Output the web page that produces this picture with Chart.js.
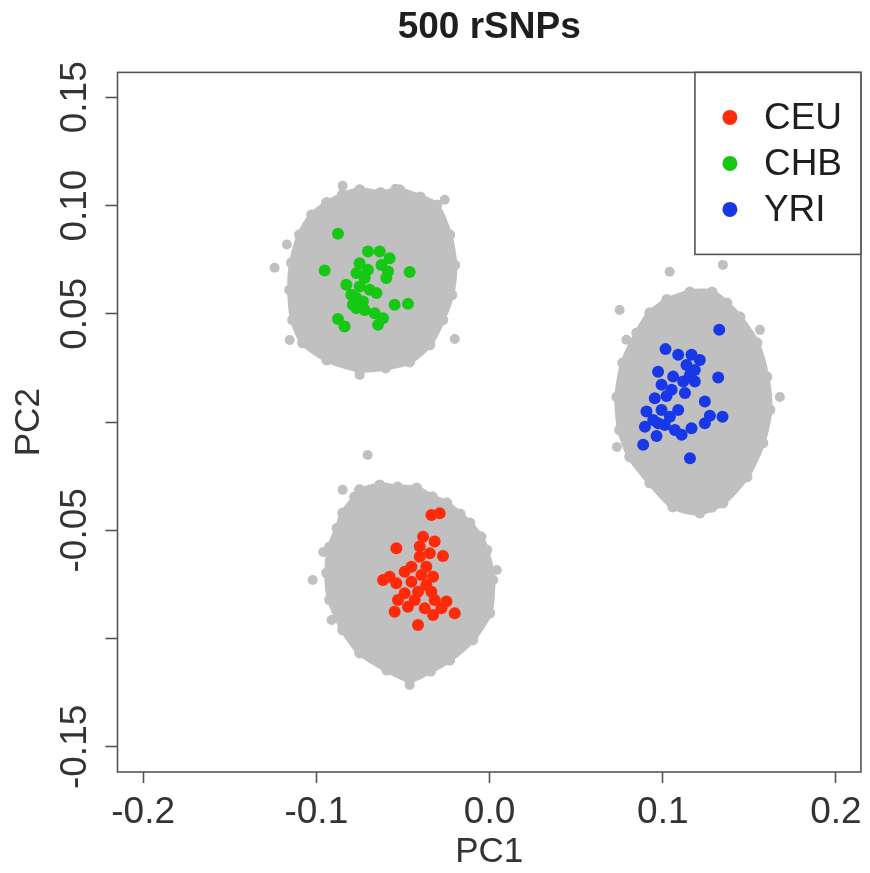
<!DOCTYPE html>
<html>
<head>
<meta charset="utf-8">
<script src="https://cdn.jsdelivr.net/npm/chart.js@4/dist/chart.umd.min.js"></script>
<style>
  html, body { margin: 0; padding: 0; background: #fff; }
  #wrap { width: 870px; height: 873px; position: relative; }
</style>
</head>
<body>
<div id="wrap"><canvas id="pca"></canvas></div>
<script>
////////////////////////////////////////////////////////////////////////////////
// data (PC1, PC2)
////////////////////////////////////////////////////////////////////////////////
const GROUPS = ["CEU", "CHB", "YRI"];
const COLORS = ["#ff2a0a", "#14c814", "#1838e8"];
const GRAY = "#c0c0c0";

const X_TICKS = [-0.2, -0.1, 0.0, 0.1, 0.2];
const X_TICK_LABELS = ["-0.2", "-0.1", "0.0", "0.1", "0.2"];
const Y_TICKS = [-0.15, -0.10, -0.05, 0.0, 0.05, 0.10, 0.15];
const Y_TICK_LABELS = ["-0.15", "", "-0.05", "", "0.05", "0.10", "0.15"];

const CEU_POINTS = [
  [-0.0336, -0.0429], [-0.0288, -0.0421], [-0.0384, -0.0529], [-0.0538, -0.0583],
  [-0.0317, -0.0552], [-0.0403, -0.0575], [-0.0345, -0.0606], [-0.0269, -0.0618],
  [-0.0403, -0.0622], [-0.0615, -0.0729], [-0.0490, -0.0691], [-0.0393, -0.0706],
  [-0.0326, -0.0714], [-0.0538, -0.0744], [-0.0451, -0.0737], [-0.0365, -0.0752],
  [-0.0490, -0.0791], [-0.0413, -0.0783], [-0.0336, -0.0783], [-0.0529, -0.0822],
  [-0.0432, -0.0822], [-0.0317, -0.0822], [-0.0249, -0.0829], [-0.0548, -0.0876],
  [-0.0471, -0.0853], [-0.0374, -0.0860], [-0.0201, -0.0883], [-0.0326, -0.0891],
  [-0.0413, -0.0937], [-0.0278, -0.0860], [-0.0577, -0.0714], [-0.0451, -0.0668],
  [-0.0365, -0.0668]
];
const CHB_POINTS = [
  [-0.0875, 0.0870], [-0.0952, 0.0700], [-0.0461, 0.0693], [-0.0702, 0.0788],
  [-0.0634, 0.0788], [-0.0577, 0.0757], [-0.0750, 0.0734], [-0.0624, 0.0726],
  [-0.0586, 0.0695], [-0.0769, 0.0688], [-0.0596, 0.0665], [-0.0721, 0.0665],
  [-0.0827, 0.0634], [-0.0750, 0.0626], [-0.0692, 0.0611], [-0.0653, 0.0596],
  [-0.0769, 0.0573], [-0.0731, 0.0557], [-0.0789, 0.0542], [-0.0548, 0.0542],
  [-0.0471, 0.0546], [-0.0721, 0.0518], [-0.0663, 0.0503], [-0.0615, 0.0480],
  [-0.0875, 0.0476], [-0.0837, 0.0441], [-0.0644, 0.0449], [-0.0769, 0.0526],
  [-0.0702, 0.0703], [-0.0798, 0.0588]
];
const YRI_POINTS = [
  [0.1326, 0.0426], [0.1016, 0.0337], [0.1089, 0.0311], [0.1166, 0.0311],
  [0.1214, 0.0287], [0.1137, 0.0264], [0.1185, 0.0241], [0.0973, 0.0233],
  [0.1320, 0.0206], [0.1060, 0.0210], [0.1118, 0.0187], [0.1185, 0.0187],
  [0.0993, 0.0172], [0.1051, 0.0149], [0.1128, 0.0134], [0.0954, 0.0110],
  [0.1022, 0.0121], [0.1243, 0.0095], [0.0906, 0.0049], [0.0993, 0.0056],
  [0.1089, 0.0056], [0.1041, 0.0025], [0.1272, 0.0029], [0.1345, 0.0025],
  [0.0945, 0.0010], [0.1243, -0.0005], [0.0897, -0.0021], [0.1012, -0.0013],
  [0.1070, -0.0036], [0.1166, -0.0028], [0.1109, -0.0059], [0.0964, -0.0064],
  [0.0887, -0.0105], [0.1157, -0.0167], [0.0973, -0.0005], [0.1157, 0.0218]
];

// outlines of the dense grey clouds of simulated samples
const CEU_CLOUD = [
  [-0.0750, -0.0313], [-0.0634, -0.0290], [-0.0530, -0.0300], [-0.0421, -0.0304],
  [-0.0330, -0.0345], [-0.0247, -0.0373], [-0.0170, -0.0425], [-0.0114, -0.0466],
  [-0.0050, -0.0530], [-0.0016, -0.0591], [0.0018, -0.0729], [0.0001, -0.0882],
  [-0.0097, -0.1006], [-0.0230, -0.1099], [-0.0340, -0.1150], [-0.0461, -0.1192],
  [-0.0594, -0.1145], [-0.0750, -0.1066], [-0.0848, -0.0960], [-0.0923, -0.0821],
  [-0.0940, -0.0697], [-0.0923, -0.0577], [-0.0880, -0.0490], [-0.0848, -0.0420],
  [-0.0779, -0.0346], [-0.0750, -0.0313]
];
const CHB_CLOUD = [
  [-0.0940, 0.1013], [-0.0850, 0.1050], [-0.0750, 0.1073], [-0.0630, 0.1060],
  [-0.0519, 0.1073], [-0.0400, 0.1040], [-0.0305, 0.1003], [-0.0230, 0.0865],
  [-0.0201, 0.0726], [-0.0218, 0.0588], [-0.0270, 0.0472], [-0.0345, 0.0357],
  [-0.0461, 0.0278], [-0.0600, 0.0250], [-0.0750, 0.0241], [-0.0940, 0.0287],
  [-0.1079, 0.0366], [-0.1137, 0.0472], [-0.1154, 0.0611], [-0.1143, 0.0736],
  [-0.1097, 0.0865], [-0.1027, 0.0957], [-0.0940, 0.1013]
];
const YRI_CLOUD = [
  [0.1024, 0.0565], [0.1157, 0.0601], [0.1284, 0.0601], [0.1370, 0.0550],
  [0.1445, 0.0486], [0.1544, 0.0366], [0.1601, 0.0209], [0.1618, 0.0057],
  [0.1578, -0.0096], [0.1486, -0.0253], [0.1347, -0.0374], [0.1214, -0.0420],
  [0.1058, -0.0392], [0.0925, -0.0281], [0.0809, -0.0161], [0.0751, -0.0036],
  [0.0735, 0.0116], [0.0769, 0.0273], [0.0850, 0.0412], [0.0925, 0.0505],
  [0.1024, 0.0565]
];
const CLOUD_OUTLIERS = [
  [-0.1241, 0.0713], [-0.0848, 0.1091], [-0.0543, 0.1078], [-0.0259, 0.1027],
  [-0.1154, 0.0379], [-0.0750, 0.0218], [-0.0201, 0.0384], [-0.1170, 0.0820],
  [0.1040, 0.0694], [0.1347, 0.0726], [0.0751, 0.0518], [0.1676, 0.0116],
  [0.1561, 0.0426], [0.1284, -0.0396], [0.0735, -0.0115], [0.0790, 0.0380],
  [-0.0704, -0.0152], [-0.1021, -0.0729], [-0.0848, -0.0313], [-0.0912, -0.0914],
  [-0.0461, -0.1214], [0.0042, -0.0683], [-0.0960, -0.0600]
];

const FONT = "'Liberation Sans', Arial, Helvetica, sans-serif";
const TEXT = "#1e1e1e";

const toXY = (arr)=> arr.map(p => ({x: p[0], y: p[1]}));

////////////////////////////////////////////////////////////////////////////////
// datasets
////////////////////////////////////////////////////////////////////////////////
const cloudSet = (label, pts)=>({
  label: label,
  data: toXY(pts),
  showLine: true,
  fill: "shape",
  tension: 0.25,
  backgroundColor: GRAY,
  borderColor: GRAY,
  borderWidth: 5,
  pointRadius: 5.5,
  pointBackgroundColor: GRAY,
  pointBorderWidth: 0,
  order: 10,
});

const groupSet = (i, pts)=>({
  label: GROUPS[i],
  data: toXY(pts),
  backgroundColor: COLORS[i],
  borderColor: COLORS[i],
  pointRadius: 6,
  pointBorderWidth: 0,
  order: 1,
});

const datasets = [
  groupSet(0, CEU_POINTS),
  groupSet(1, CHB_POINTS),
  groupSet(2, YRI_POINTS),
  cloudSet("CEU cloud", CEU_CLOUD),
  cloudSet("CHB cloud", CHB_CLOUD),
  cloudSet("YRI cloud", YRI_CLOUD),
  {
    label: "outliers",
    data: toXY(CLOUD_OUTLIERS),
    backgroundColor: GRAY,
    pointRadius: 5,
    pointBorderWidth: 0,
    order: 9,
  },
];

////////////////////////////////////////////////////////////////////////////////
// plugins: plot box + R-style legend in the top-right corner
////////////////////////////////////////////////////////////////////////////////
const boxPlugin = {
  id: "rbox",
  afterDatasetsDraw(chart){
    const {ctx, chartArea: a} = chart;
    ctx.save();
    ctx.strokeStyle = "#555";
    ctx.lineWidth = 1.6;
    ctx.strokeRect(a.left, a.top, a.right - a.left, a.bottom - a.top);
    ctx.restore();
  }
};

const legendPlugin = {
  id: "rlegend",
  afterDraw(chart){
    const {ctx, chartArea: a} = chart;
    const w = 166, h = 182;
    const left = a.right - w, top = a.top;
    ctx.save();
    ctx.fillStyle = "#fff";
    ctx.fillRect(left, top, w, h);
    ctx.strokeStyle = "#555";
    ctx.lineWidth = 1.6;
    ctx.strokeRect(left, top, w, h);
    ctx.font = "37px " + FONT;
    ctx.textBaseline = "middle";
    GROUPS.forEach((g, i)=>{
      const y = top + 45 + i * 46;
      ctx.fillStyle = chart.data.datasets[i].backgroundColor;
      ctx.beginPath();
      ctx.arc(left + 35, y, 7.5, 0, Math.PI * 2);
      ctx.fill();
      ctx.fillStyle = TEXT;
      ctx.fillText(g, left + 69, y + 1);
    });
    ctx.restore();
  }
};

////////////////////////////////////////////////////////////////////////////////
// chart
////////////////////////////////////////////////////////////////////////////////
const createChart = ()=>{
  const canvas = document.querySelector("#pca");
  new Chart(canvas, {
    type: "scatter",
    data: { datasets: datasets },
    options: {
      responsive: true,
      maintainAspectRatio: false,
      animation: false,
      layout: { padding: { left: 0, right: 9, top: 0, bottom: 0 } },
      plugins: {
        legend: { display: false },
        tooltip: { enabled: false },
        title: {
          display: true,
          text: "500 rSNPs",
          fullSize: false,
          color: TEXT,
          font: { family: FONT, size: 37, weight: "bold" },
          padding: { top: 6, bottom: 22 },
        },
      },
      scales: {
        x: {
          type: "linear",
          min: -0.2148,
          max: 0.2144,
          afterBuildTicks: (s)=>{ s.ticks = X_TICKS.map(v => ({value: v})); },
          afterFit: (s)=>{ s.height = 101; },
          border: { display: false },
          grid: { drawOnChartArea: false, tickLength: 11, tickColor: "#555", tickWidth: 1.6 },
          ticks: {
            color: "#333",
            font: { family: FONT, size: 37 },
            padding: 8,
            maxRotation: 0,
            callback: (v, i)=> X_TICK_LABELS[i],
          },
          title: {
            display: true,
            text: "PC1",
            color: "#333",
            font: { family: FONT, size: 35 },
            padding: { top: 0, bottom: 0 },
          },
        },
        y: {
          type: "linear",
          min: -0.1616,
          max: 0.1615,
          afterBuildTicks: (s)=>{ s.ticks = Y_TICKS.map(v => ({value: v})); },
          afterFit: (s)=>{ s.width = 117.5; },
          border: { display: false },
          grid: { drawOnChartArea: false, tickLength: 12, tickColor: "#555", tickWidth: 1.6 },
          ticks: {
            color: "#333",
            font: { family: FONT, size: 37 },
            minRotation: 90,
            maxRotation: 90,
            crossAlign: "center",
            padding: -12,
            callback: (v, i)=> Y_TICK_LABELS[i],
          },
          title: {
            display: true,
            text: "PC2",
            color: "#333",
            font: { family: FONT, size: 35 },
            padding: { top: 8, bottom: 0 },
          },
        },
      },
    },
    plugins: [boxPlugin, legendPlugin],
  });
};

createChart();
</script>
</body>
</html>
